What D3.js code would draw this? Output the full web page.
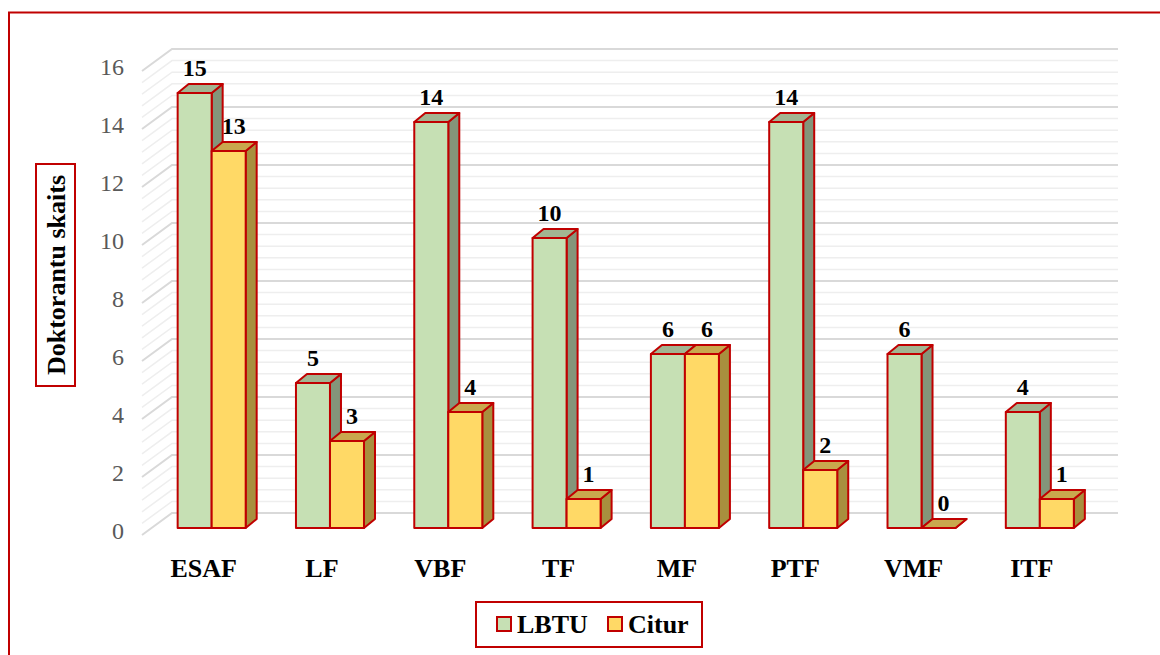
<!DOCTYPE html>
<html>
<head>
<meta charset="utf-8">
<script src="https://cdn.jsdelivr.net/npm/d3@7"></script>
<style>
  html, body { margin: 0; padding: 0; background: #fff; }
  svg { display: block; }
</style>
</head>
<body>
<svg id="chart" width="1160" height="655"></svg>
<script>
const categories = ["ESAF", "LF", "VBF", "TF", "MF", "PTF", "VMF", "ITF"];
const seriesNames = ["LBTU", "Citur"];
const lbtu = [15, 5, 14, 10, 6, 14, 6, 4];
const citur = [13, 3, 4, 1, 6, 2, 0, 1];
const yTicks = [0, 2, 4, 6, 8, 10, 12, 14, 16];
const yTitle = "Doktorantu skaits";

const svg = d3.select("#chart");
const red = "#c00000";
const font = "'Liberation Serif', 'Times New Roman', serif";

const faces = [
  { front: "#c6e0b4", side: "#84957a", top: "#a2b592" },
  { front: "#ffd966", side: "#a88f3e", top: "#c9a84e" }
];

// outer frame
svg.append("rect").attr("x", 9).attr("y", 12.5).attr("width", 1170).attr("height", 700)
  .attr("fill", "none").attr("stroke", red).attr("stroke-width", 2);

const x = d3.scaleBand().domain(categories).range([118.5, 1133]).paddingInner(0.425).paddingOuter(0.5);
const xs = d3.scaleBand().domain(seriesNames).range([0, x.bandwidth()]);
const y = d3.scaleLinear().domain([0, 16]).range([528, 64]);

const dx = 11, dy = -9;
const wallFrontX = 142, wallBackX = 172, wallRightX = 1118;
const frontOff = 7, backOff = -15;

// gridlines (minor every 0.4, major every 2)
const grid = svg.append("g");
const minorVals = d3.range(0, 16.001, 0.4).filter(v => Math.abs(v / 2 - Math.round(v / 2)) > 1e-6);
function gridLine(v, color, w) {
  grid.append("path")
    .attr("d", `M${wallFrontX},${y(v) + frontOff}L${wallBackX},${y(v) + backOff}L${wallRightX},${y(v) + backOff}`)
    .attr("fill", "none").attr("stroke", color).attr("stroke-width", w);
}
minorVals.forEach(v => gridLine(v, "#eeeeee", 1.5));
yTicks.forEach(v => gridLine(v, "#d9d9d9", 2));

// y tick labels
svg.append("g").selectAll("text").data(yTicks).join("text")
  .attr("x", 124).attr("y", d => y(d) + frontOff - 4).attr("dy", "0.35em")
  .attr("text-anchor", "end").attr("font-family", font).attr("font-size", 24)
  .attr("fill", "#595959").text(d => d);

// bars
const data = categories.map((c, i) => ({ c, vals: [lbtu[i], citur[i]] }));
const barsG = svg.append("g");
data.forEach(d => {
  d.vals.forEach((v, si) => {
    const x0 = x(d.c) + xs(seriesNames[si]);
    const w = xs.bandwidth();
    const yt = y(v), yb = y(0);
    const g = barsG.append("g").attr("stroke", red).attr("stroke-width", 2).attr("stroke-linejoin", "round");
    // side
    g.append("path").attr("fill", faces[si].side)
      .attr("d", `M${x0 + w},${yt}L${x0 + w + dx},${yt + dy}L${x0 + w + dx},${yb + dy}L${x0 + w},${yb}Z`);
    // top
    g.append("path").attr("fill", faces[si].top)
      .attr("d", `M${x0},${yt}L${x0 + dx},${yt + dy}L${x0 + w + dx},${yt + dy}L${x0 + w},${yt}Z`);
    // front
    g.append("rect").attr("fill", faces[si].front)
      .attr("x", x0).attr("y", yt).attr("width", w).attr("height", yb - yt);
  });
});

// value labels
const labelOff = [0, 5];
const lblG = svg.append("g").attr("font-family", font).attr("font-weight", "bold")
  .attr("font-size", 24).attr("fill", "#000").attr("text-anchor", "middle");
data.forEach(d => {
  d.vals.forEach((v, si) => {
    const cx = x(d.c) + xs(seriesNames[si]) + xs.bandwidth() / 2 + labelOff[si];
    lblG.append("text").attr("x", cx).attr("y", y(v) - 17).text(v);
  });
});

// category labels
svg.append("g").selectAll("text").data(categories).join("text")
  .attr("x", d => x(d) + x.bandwidth() / 2 - 8).attr("y", 577)
  .attr("text-anchor", "middle").attr("font-family", font).attr("font-weight", "bold")
  .attr("font-size", 26).attr("fill", "#000").text(d => d);

// y title with box
svg.append("rect").attr("x", 36).attr("y", 164).attr("width", 39).attr("height", 222)
  .attr("fill", "#fff").attr("stroke", red).attr("stroke-width", 2);
svg.append("text").attr("transform", "translate(65,275) rotate(-90)")
  .attr("text-anchor", "middle").attr("font-family", font).attr("font-weight", "bold")
  .attr("font-size", 26).attr("fill", "#000").text(yTitle);

// legend
const lg = svg.append("g");
lg.append("rect").attr("x", 476).attr("y", 602).attr("width", 226).attr("height", 45)
  .attr("fill", "#fff").attr("stroke", red).attr("stroke-width", 2);
const legendX = [497, 608];
seriesNames.forEach((s, i) => {
  lg.append("rect").attr("x", legendX[i]).attr("y", 617).attr("width", 14).attr("height", 14)
    .attr("fill", faces[i].front).attr("stroke", red).attr("stroke-width", 2);
  lg.append("text").attr("x", legendX[i] + 20).attr("y", 633)
    .attr("font-family", font).attr("font-weight", "bold").attr("font-size", 26)
    .attr("fill", "#000").text(s);
});
</script>
</body>
</html>
